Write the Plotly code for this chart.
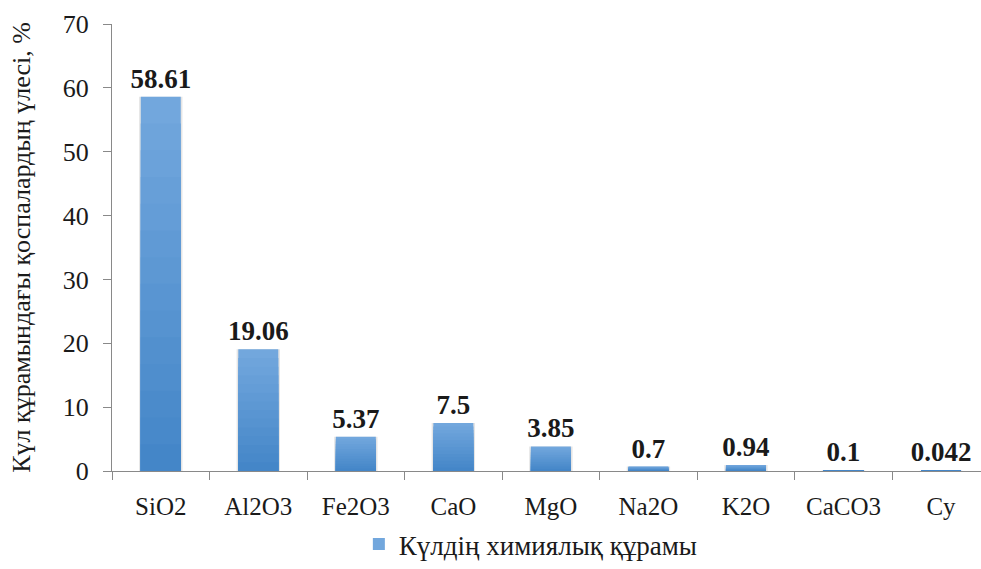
import plotly.graph_objects as go

# Ash composition data
components = ["SiO2", "Al2O3", "Fe2O3", "CaO", "MgO", "Na2O", "K2O", "CaCO3", "Cy"]
shares = [58.61, 19.06, 5.37, 7.5, 3.85, 0.7, 0.94, 0.1, 0.042]
share_labels = ["58.61", "19.06", "5.37", "7.5", "3.85", "0.7", "0.94", "0.1", "0.042"]
y_ticks = [0, 10, 20, 30, 40, 50, 60, 70]

series_name = "Күлдің химиялық құрамы"
y_title = "Күл құрамындағы қоспалардың үлесі, %"

FONT = "'Liberation Serif', 'Times New Roman', Times, serif"
TEXT_COLOR = "#1a1a1a"
AXIS_COLOR = "#898989"
TOP_RGB = (114, 167, 221)
BOTTOM_RGB = (68, 134, 200)
N_BANDS = 14
BAR_WIDTH = 0.41


def mix(a, b, t):
    return "rgb(%d,%d,%d)" % tuple(round(a[i] + (b[i] - a[i]) * t) for i in range(3))


fig = go.Figure()

# soft shadow under each bar
fig.add_trace(go.Bar(
    x=components, y=shares, width=BAR_WIDTH + 0.035,
    marker=dict(color="rgba(0,0,0,0.10)", line=dict(width=0)),
    showlegend=False, hoverinfo="skip",
))

# vertical gradient: overlays shrinking downwards, lighter at the top, darker at the base
for k in range(N_BANDS):
    frac = 1 - k / N_BANDS
    t = k / (N_BANDS - 1)
    first = k == 0
    fig.add_trace(go.Bar(
        x=components,
        y=[v * frac for v in shares],
        width=BAR_WIDTH,
        name=series_name,
        marker=dict(color=mix(TOP_RGB, BOTTOM_RGB, t), line=dict(width=0)),
        text=share_labels if first else None,
        texttemplate="<b>%{text}</b>" if first else None,
        textposition="outside" if first else "none",
        constraintext="none",
        textfont=dict(family=FONT, size=27, color=TEXT_COLOR),
        cliponaxis=False,
        showlegend=first,
        hoverinfo="skip" if not first else None,
    ))

fig.update_layout(
    width=981, height=569,
    barmode="overlay",
    paper_bgcolor="white", plot_bgcolor="white",
    margin=dict(l=112, r=0, t=24, b=98),
    font=dict(family=FONT, size=25, color=TEXT_COLOR),
    legend=dict(
        orientation="h", x=0.482, xanchor="center", y=-0.165, yanchor="middle",
        font=dict(family=FONT, size=27, color=TEXT_COLOR),
        itemwidth=30,
    ),
)

fig.update_xaxes(
    type="category",
    range=[-0.5, 8.41],
    showline=True, linecolor=AXIS_COLOR, linewidth=1,
    ticks="outside", tickson="boundaries", ticklen=8, tickcolor=AXIS_COLOR,
    tickfont=dict(family=FONT, size=25, color=TEXT_COLOR),
    showgrid=False, zeroline=False,
    ticklabelstandoff=13,
    automargin=False,
)

fig.update_yaxes(
    range=[0, 70],
    tickvals=y_ticks,
    showline=True, linecolor=AXIS_COLOR, linewidth=1,
    ticks="outside", ticklen=8, tickcolor=AXIS_COLOR,
    tickfont=dict(family=FONT, size=26, color=TEXT_COLOR),
    showgrid=False, zeroline=False,
    title=dict(text=y_title, font=dict(family=FONT, size=26, color=TEXT_COLOR), standoff=24),
    ticklabelstandoff=9,
    automargin=False,
)

fig.write_html("out.html")
